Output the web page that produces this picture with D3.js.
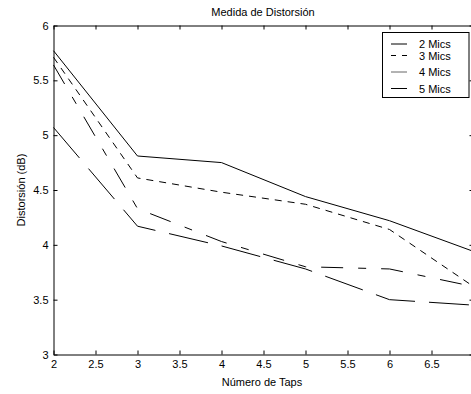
<!DOCTYPE html>
<html>
<head>
<meta charset="utf-8">
<script src="https://cdn.jsdelivr.net/npm/d3@7"></script>
<style>
  body { margin: 0; background: #fff; }
  svg { display: block; font-family: "Liberation Sans", Arial, sans-serif; }
</style>
</head>
<body>
<svg id="chart" width="471" height="394"></svg>
<script>
// --- DATOS ---
const taps = [2, 3, 4, 5, 6, 7];
const mics2 = [5.77, 4.81, 4.75, 4.44, 4.22, 3.94];
const mics3 = [5.71, 4.61, 4.48, 4.37, 4.14, 3.62];
const mics4 = [5.64, 4.33, 4.03, 3.80, 3.78, 3.62];
const mics5 = [5.07, 4.17, 3.99, 3.78, 3.50, 3.45];
const nombres = ["2 Mics", "3 Mics", "4 Mics", "5 Mics"];
const xTicks = [2, 2.5, 3, 3.5, 4, 4.5, 5, 5.5, 6, 6.5, 7];
const yTicks = [3, 3.5, 4, 4.5, 5, 5.5, 6];

const series = [mics2, mics3, mics4, mics5];
const dashes = [null, "7,6", "22,15,8,15", "40,14"];

const mLeft = 53.5, mRight = 473.5, mTop = 25.5, mBottom = 354.5;

const svg = d3.select("#chart");

const x = d3.scaleLinear().domain([2, 7]).range([mLeft, mRight]);
const y = d3.scaleLinear().domain([3, 6]).range([mBottom, mTop]);

// --- EJES (ticks hacia dentro, estilo matlab) ---
const fmt = d => String(d);
const axB = svg.append("g").attr("transform", `translate(0,${mBottom})`)
  .call(d3.axisBottom(x).tickValues(xTicks).tickFormat(fmt).tickSizeInner(-4).tickSizeOuter(0).tickPadding(6));
const axL = svg.append("g").attr("transform", `translate(${mLeft},0)`)
  .call(d3.axisLeft(y).tickValues(yTicks).tickFormat(fmt).tickSizeInner(-4).tickSizeOuter(0).tickPadding(5));
const axT = svg.append("g").attr("transform", `translate(0,${mTop})`)
  .call(d3.axisTop(x).tickValues(xTicks).tickFormat("").tickSizeInner(-4).tickSizeOuter(0));
const axR = svg.append("g").attr("transform", `translate(${mRight},0)`)
  .call(d3.axisRight(y).tickValues(yTicks).tickFormat("").tickSizeInner(-4).tickSizeOuter(0));

[axB, axL, axT, axR].forEach(g => {
  g.selectAll("path.domain").attr("stroke", "#000").attr("stroke-width", 1);
  g.selectAll(".tick line").attr("stroke", "#000");
  g.selectAll("text").attr("fill", "#000").style("font-size", "11px").style("font-family", "Liberation Sans, Arial, sans-serif");
});

// --- LINEAS ---
const line = d3.line().x((d, i) => x(taps[i])).y(d => y(d));
series.forEach((s, k) => {
  svg.append("path")
    .datum(s)
    .attr("d", line)
    .attr("fill", "none")
    .attr("stroke", "#000")
    .attr("stroke-width", 1)
    .attr("stroke-dasharray", dashes[k]);
});

// --- TITULOS ---
svg.append("text").attr("x", 263).attr("y", 16).attr("text-anchor", "middle")
  .style("font-size", "11px").text("Medida de Distorsión");
svg.append("text").attr("x", 262).attr("y", 386).attr("text-anchor", "middle")
  .style("font-size", "11px").text("Número de Taps");
svg.append("text").attr("transform", "translate(25,190) rotate(-90)").attr("text-anchor", "middle")
  .style("font-size", "11px").text("Distorsión (dB)");

// --- LEYENDA ---
const leg = svg.append("g");
leg.append("rect").attr("x", 382.5).attr("y", 32.5).attr("width", 86.5).attr("height", 65)
  .attr("fill", "#fff").attr("stroke", "#000");
const filas = [44, 55.5, 72, 88.5];
nombres.forEach((n, k) => {
  leg.append("line").attr("x1", 391).attr("x2", 407).attr("y1", filas[k]).attr("y2", filas[k])
    .attr("stroke", k === 2 ? "#666" : "#000")
    .attr("stroke-dasharray", k === 1 ? "5,6" : null);
  leg.append("text").attr("x", 419).attr("y", filas[k] + 4).style("font-size", "11px").text(n);
});
</script>
</body>
</html>
